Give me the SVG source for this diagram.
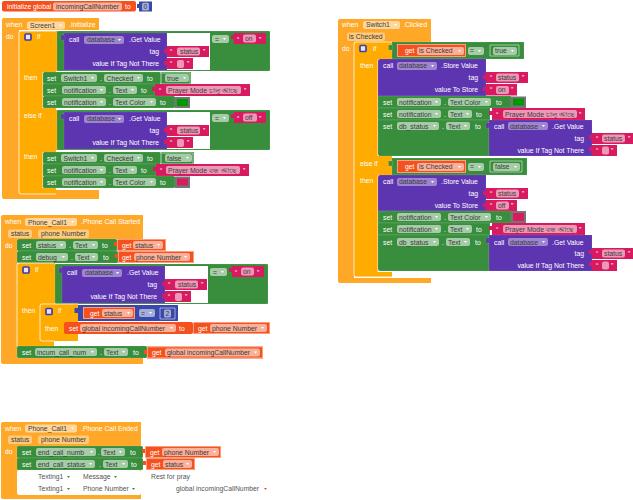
<svg xmlns="http://www.w3.org/2000/svg" xmlns:xlink="http://www.w3.org/1999/xlink" width="633" height="500" viewBox="0 0 633 500">
<style>
text{font-family:"Liberation Sans",Arial,sans-serif;font-size:6.8px;fill:#fff}
.l{fill:#3a3a3a}
.d{fill:#555}
.e{text-anchor:end}
.f{fill:#fff;fill-opacity:.55}
.p{fill:#fff;fill-opacity:.4}
.ev{fill:#ffa726}
.am{fill:#ffab00}
.gr{fill:#388e3c;stroke:#fff;stroke-opacity:.22;stroke-width:.5}
.pu{fill:#5e35b1;stroke:#fff;stroke-opacity:.18;stroke-width:.5}
.pk{fill:#d81b60}
.rd{fill:#f4511e}
.bl{fill:#3949ab}
.gy{fill:#757575}
.wh{fill:#fff}
.ln{fill:none;stroke:#fff;stroke-width:.9;stroke-opacity:.85}
.ol{fill:none;stroke:#fff;stroke-width:.7;stroke-opacity:.75}
.sl{fill:none;stroke:#ffb199;stroke-width:.8}
.m{fill:#e8e4f5;stroke:#3f3fa8;stroke-width:1.7}
</style>
<defs>
<path id="a" d="M0 0h3l-1.5 2z" fill="#fff"/>
<path id="g" d="M0 0h3l-1.5 2z" fill="#388e3c"/>
<path id="r" d="M0 0h3l-1.5 2z" fill="#f4511e"/>
</defs>

<g id="init-global">
<rect class="rd" x="2" y="1" width="134" height="10.5" rx="2"/>
<rect class="bl" x="137" y="4" width="3" height="4"/>
<rect class="bl" x="139" y="1.5" width="13" height="10"/>
<text x="7" y="8.7">initialize global</text>
<rect class="f" x="53" y="2.5" width="69" height="8" rx="2"/>
<text class="l" x="56" y="8.7">incomingCallNumber</text>
<text x="125" y="8.7">to</text>
<rect class="f" x="142" y="2.8" width="7" height="7.6" rx="1.5"/>
<text class="l" x="143.6" y="8.7">0</text>
</g>

<g id="screen1-initialize">
<path class="ev" d="M4 18H99V30H19V190H99V199H4Q2 199 2 197V20Q2 18 4 18Z"/>
<text x="6" y="27">when</text>
<rect class="f" x="27" y="21.5" width="38" height="8" rx="2"/>
<text class="l" x="30" y="27.5">Screen1</text><use href="#a" x="59" y="24.5"/>
<text x="69" y="27">.Initialize</text>
<text x="6" y="39">do</text>
<g id="screen1-if">
<path class="am" d="M21 31H57V71H56V72H43V108H56V110H57V150H56V152H43V188H56V194H21Q19 194 19 192V33Q19 31 21 31Z"/>
<path class="ln" d="M43 72V108M43 152V188M56 31H21Q19 31 19 33V192Q19 194 21 194H56"/>
<rect class="m" x="25" y="34" width="6" height="6" rx="1"/>
<text x="37" y="39">if</text>
<text x="24" y="80">then</text>
<text x="24" y="118">else if</text>
<text x="24" y="159">then</text>
</g>
<g id="screen1-cond1" transform="translate(57,31)">
<rect class="gr" width="213" height="40" rx="1"/>
<rect class="pu" x="4" y="4" width="4" height="5"/>
<rect class="pu" x="7" y="2" width="103" height="37"/>
<rect class="wh" x="110" y="2" width="43" height="37"/>
<text x="12" y="11">call</text>
<rect class="p" x="27" y="5" width="40" height="8" rx="2"/>
<text class="l" x="30" y="11">database</text><use href="#a" x="61" y="8"/>
<text x="72" y="11">.Get Value</text>
<text class="e" x="102" y="23">tag</text>
<text class="e" x="102" y="35">value If Tag Not There</text>
<rect class="pk" x="107" y="18" width="3" height="4"/>
<rect class="pk" x="110" y="15" width="42" height="11"/>
<text x="113" y="23">“</text><rect class="f" x="120" y="16.5" width="23" height="8" rx="2"/><text class="l" x="123" y="23">status</text><text x="146" y="23">”</text>
<rect class="pk" x="107" y="30" width="3" height="4"/>
<rect class="pk" x="110" y="27" width="26" height="11"/>
<text x="113" y="35">“</text><rect class="f" x="120" y="29" width="7" height="8" rx="2"/><text x="130" y="35">”</text>
<rect class="f" x="155" y="4" width="17" height="8" rx="2"/>
<text class="l" x="158" y="10.5">=</text><use href="#a" x="166" y="7"/>
<rect class="pk" x="174" y="4" width="3" height="4"/>
<rect class="pk" x="177" y="2" width="32" height="11"/>
<text x="180" y="10.5">“</text><rect class="f" x="186" y="3.5" width="13" height="8" rx="2"/><text class="l" x="188" y="10">on</text><text x="202" y="10.5">”</text>
</g>
<g id="screen1-set-switch-on">
<rect class="gr" x="43" y="72" width="118" height="12" rx="1.5"/>
<rect class="gr" x="161" y="72" width="30" height="12"/>
<path class="ol" d="M161 73V84H190V73H161"/>
<text x="47" y="80.5">set</text>
<rect class="f" x="61" y="74" width="36" height="8" rx="2"/><text class="l" x="63.5" y="80.5">Switch1</text><use href="#a" x="91" y="77"/>
<text x="100" y="80.5">.</text>
<rect class="f" x="104" y="74" width="39" height="8" rx="2"/><text class="l" x="106.5" y="80.5">Checked</text><use href="#a" x="137" y="77"/>
<text x="147" y="80.5">to</text>
<rect class="f" x="165" y="74" width="24" height="8" rx="2"/><text class="l" x="167" y="80.5">true</text><use href="#a" x="183" y="77"/>
</g>
<g id="screen1-set-text-on">
<rect class="gr" x="43" y="84" width="112" height="12"/>
<text x="47" y="92.5">set</text>
<rect class="f" x="62" y="86" width="44" height="8" rx="2"/><text class="l" x="64" y="92.5">notification</text><use href="#a" x="100" y="89"/>
<text x="109" y="92.5">.</text>
<rect class="f" x="113" y="86" width="24" height="8" rx="2"/><text class="l" x="115" y="92.5">Text</text><use href="#a" x="131" y="89"/>
<text x="141" y="92.5">to</text>
<rect class="pk" x="152" y="87" width="3" height="4"/>
<rect class="pk" x="155" y="84" width="95" height="12"/>
<text x="159" y="93">“</text><rect class="f" x="166" y="86" width="75" height="8" rx="2"/><text class="l" x="168" y="92.5">Prayer Mode চালু আছে</text><text x="244" y="93">”</text>
</g>
<g id="screen1-set-color-on">
<rect class="gr" x="43" y="96" width="132" height="12" rx="1.5"/>
<text x="47" y="104.5">set</text>
<rect class="f" x="62" y="98" width="44" height="8" rx="2"/><text class="l" x="64" y="104.5">notification</text><use href="#a" x="100" y="101"/>
<text x="109" y="104.5">.</text>
<rect class="f" x="113" y="98" width="43" height="8" rx="2"/><text class="l" x="115" y="104.5">Text Color</text><use href="#a" x="150" y="101"/>
<text x="160" y="104.5">to</text>
<rect class="gy" x="175" y="97" width="15" height="11"/><rect x="177" y="99" width="11" height="7" fill="#009900"/>
</g>
<g id="screen1-cond2" transform="translate(57,110)">
<rect class="gr" width="213" height="40" rx="1"/>
<rect class="pu" x="4" y="4" width="4" height="5"/>
<rect class="pu" x="7" y="2" width="103" height="37"/>
<rect class="wh" x="110" y="2" width="43" height="37"/>
<text x="12" y="11">call</text>
<rect class="p" x="27" y="5" width="40" height="8" rx="2"/>
<text class="l" x="30" y="11">database</text><use href="#a" x="61" y="8"/>
<text x="72" y="11">.Get Value</text>
<text class="e" x="102" y="23">tag</text>
<text class="e" x="102" y="35">value If Tag Not There</text>
<rect class="pk" x="107" y="18" width="3" height="4"/>
<rect class="pk" x="110" y="15" width="42" height="11"/>
<text x="113" y="23">“</text><rect class="f" x="120" y="16.5" width="23" height="8" rx="2"/><text class="l" x="123" y="23">status</text><text x="146" y="23">”</text>
<rect class="pk" x="107" y="30" width="3" height="4"/>
<rect class="pk" x="110" y="27" width="26" height="11"/>
<text x="113" y="35">“</text><rect class="f" x="120" y="29" width="7" height="8" rx="2"/><text x="130" y="35">”</text>
<rect class="f" x="155" y="4" width="17" height="8" rx="2"/>
<text class="l" x="158" y="10.5">=</text><use href="#a" x="166" y="7"/>
<rect class="pk" x="174" y="4" width="3" height="4"/>
<rect class="pk" x="177" y="2" width="32" height="11"/>
<text x="180" y="10.5">“</text><rect class="f" x="186" y="3.5" width="14" height="8" rx="2"/><text class="l" x="188" y="10">off</text><text x="202" y="10.5">”</text>
</g>
<g id="screen1-set-switch-off">
<rect class="gr" x="43" y="152" width="118" height="12" rx="1.5"/>
<rect class="gr" x="161" y="152" width="33" height="12"/>
<path class="ol" d="M161 153V164H193V153H161"/>
<text x="47" y="160.5">set</text>
<rect class="f" x="61" y="154" width="36" height="8" rx="2"/><text class="l" x="63.5" y="160.5">Switch1</text><use href="#a" x="91" y="157"/>
<text x="100" y="160.5">.</text>
<rect class="f" x="104" y="154" width="39" height="8" rx="2"/><text class="l" x="106.5" y="160.5">Checked</text><use href="#a" x="137" y="157"/>
<text x="147" y="160.5">to</text>
<rect class="f" x="165" y="154" width="27" height="8" rx="2"/><text class="l" x="167" y="160.5">false</text><use href="#a" x="186" y="157"/>
</g>
<g id="screen1-set-text-off">
<rect class="gr" x="43" y="164" width="113" height="12"/>
<text x="47" y="172.5">set</text>
<rect class="f" x="62" y="166" width="44" height="8" rx="2"/><text class="l" x="64" y="172.5">notification</text><use href="#a" x="100" y="169"/>
<text x="109" y="172.5">.</text>
<rect class="f" x="113" y="166" width="24" height="8" rx="2"/><text class="l" x="115" y="172.5">Text</text><use href="#a" x="131" y="169"/>
<text x="141" y="172.5">to</text>
<rect class="pk" x="153" y="167" width="3" height="4"/>
<rect class="pk" x="156" y="164" width="93" height="12"/>
<text x="160" y="173">“</text><rect class="f" x="166" y="166" width="74" height="8" rx="2"/><text class="l" x="168" y="172.5">Prayer Mode বন্ধ আছে</text><text x="243" y="173">”</text>
</g>
<g id="screen1-set-color-off">
<rect class="gr" x="43" y="176" width="132" height="12" rx="1.5"/>
<text x="47" y="184.5">set</text>
<rect class="f" x="62" y="178" width="44" height="8" rx="2"/><text class="l" x="64" y="184.5">notification</text><use href="#a" x="100" y="181"/>
<text x="109" y="184.5">.</text>
<rect class="f" x="113" y="178" width="43" height="8" rx="2"/><text class="l" x="115" y="184.5">Text Color</text><use href="#a" x="150" y="181"/>
<text x="160" y="184.5">to</text>
<rect class="gy" x="175" y="176.5" width="15" height="11.5"/><rect x="177" y="178.5" width="11" height="7" fill="#d81b60"/>
</g>
</g>

<g id="phone-call-started">
<path class="ev" d="M3 215H143V364H3Q1 364 1 362V217Q1 215 3 215Z"/>
<rect class="wh" x="17" y="239" width="127" height="119"/>
<text x="5" y="224">when</text>
<rect class="f" x="25" y="218" width="52" height="8" rx="2"/><text class="l" x="28" y="224.5">Phone_Call1</text><use href="#a" x="71" y="221"/>
<text x="81" y="224">.Phone Call Started</text>
<rect class="p" x="8" y="229.5" width="24" height="8.5" rx="2"/><text class="l" x="11" y="236">status</text>
<rect class="p" x="38" y="229.5" width="51" height="8.5" rx="2"/><text class="l" x="41" y="236">phone Number</text>
<text x="5" y="248">do</text>
<g id="phone-set-status">
<rect class="gr" x="17" y="239" width="100" height="12" rx="1.5"/>
<text x="22" y="247.5">set</text>
<rect class="f" x="36" y="241" width="30" height="8" rx="2"/><text class="l" x="38" y="247.5">status</text><use href="#a" x="60" y="244"/>
<text x="69" y="247.5">.</text>
<rect class="f" x="73" y="241" width="25" height="8" rx="2"/><text class="l" x="75" y="247.5">Text</text><use href="#a" x="92" y="244"/>
<text x="102" y="247.5">to</text>
<rect class="rd" x="114" y="242" width="3" height="4"/>
<rect class="rd" x="117" y="239" width="49" height="12"/>
<rect class="sl" x="117.4" y="239.4" width="48" height="11"/>
<text x="122" y="247.5">get</text>
<rect class="f" x="133" y="241" width="30" height="8" rx="2"/><text class="l" x="135" y="247.5">status</text><use href="#a" x="157" y="244"/>
</g>
<g id="phone-set-debug">
<rect class="gr" x="17" y="251" width="101" height="12" rx="1.5"/>
<text x="22" y="259.5">set</text>
<rect class="f" x="36" y="253" width="32" height="8" rx="2"/><text class="l" x="38" y="259.5">debug</text><use href="#a" x="62" y="256"/>
<text x="71" y="259.5">.</text>
<rect class="f" x="75" y="253" width="23" height="8" rx="2"/><text class="l" x="77" y="259.5">Text</text><use href="#a" x="92" y="256"/>
<text x="103" y="259.5">to</text>
<rect class="rd" x="115" y="254" width="3" height="4"/>
<rect class="rd" x="118" y="251" width="76" height="12"/>
<rect class="sl" x="118.4" y="251.4" width="75" height="11"/>
<text x="122" y="259.5">get</text>
<rect class="f" x="134" y="253" width="56" height="8" rx="2"/><text class="l" x="136" y="259.5">phone Number</text><use href="#a" x="184" y="256"/>
</g>
<g id="phone-if">
<path class="am" d="M19 263H55V304H54V346H17V265Q17 263 19 263Z"/>
<path class="ln" d="M54 263H19Q17 263 17 265V346"/>
<rect class="m" x="23" y="267" width="6" height="6" rx="1"/>
<text x="35" y="272">if</text>
<text x="22" y="313">then</text>
</g>
<g id="phone-cond" transform="translate(55,264)">
<rect class="gr" width="213" height="40" rx="1"/>
<rect class="pu" x="4" y="4" width="4" height="5"/>
<rect class="pu" x="7" y="2" width="103" height="37"/>
<rect class="wh" x="110" y="2" width="43" height="37"/>
<text x="12" y="11">call</text>
<rect class="p" x="27" y="5" width="40" height="8" rx="2"/>
<text class="l" x="30" y="11">database</text><use href="#a" x="61" y="8"/>
<text x="72" y="11">.Get Value</text>
<text class="e" x="102" y="23">tag</text>
<text class="e" x="102" y="35">value If Tag Not There</text>
<rect class="pk" x="107" y="18" width="3" height="4"/>
<rect class="pk" x="110" y="15" width="42" height="11"/>
<text x="113" y="23">“</text><rect class="f" x="120" y="16.5" width="23" height="8" rx="2"/><text class="l" x="123" y="23">status</text><text x="146" y="23">”</text>
<rect class="pk" x="107" y="30" width="3" height="4"/>
<rect class="pk" x="110" y="27" width="26" height="11"/>
<text x="113" y="35">“</text><rect class="f" x="120" y="29" width="7" height="8" rx="2"/><text x="130" y="35">”</text>
<rect class="f" x="155" y="4" width="17" height="8" rx="2"/>
<text class="l" x="158" y="10.5">=</text><use href="#a" x="166" y="7"/>
<rect class="pk" x="174" y="4" width="3" height="4"/>
<rect class="pk" x="177" y="2" width="32" height="11"/>
<text x="180" y="10.5">“</text><rect class="f" x="186" y="3.5" width="13" height="8" rx="2"/><text class="l" x="188" y="10">on</text><text x="202" y="10.5">”</text>
</g>
<g id="phone-inner-if">
<path class="am" d="M42 304H78V341H54V336H42Z"/>
<path class="am" d="M40 306Q40 304 42 304H60V341H42Q40 341 40 339Z"/>
<path class="ln" d="M78 304H42Q40 304 40 306V339Q40 341 42 341H54"/>
<rect class="m" x="46" y="308.5" width="6" height="6" rx="1"/>
<text x="58" y="313">if</text>
<text x="45" y="331">then</text>
<rect class="bl" x="78" y="305" width="100" height="16"/>
<rect class="bl" x="74.5" y="308" width="4" height="5"/>
<rect class="rd" x="83" y="307" width="52" height="12"/>
<rect class="sl" x="83.4" y="307.4" width="51" height="11"/>
<text x="90" y="315.5">get</text>
<rect class="f" x="102" y="309" width="31" height="8" rx="2"/><text class="l" x="104" y="315.5">status</text><use href="#a" x="127" y="312"/>
<rect class="f" x="139" y="309" width="16" height="8" rx="2"/><text class="l" x="141" y="315.5">=</text><use href="#a" x="149" y="312"/>
<path class="ol" d="M160 308H175V319H160Z"/>
<rect class="f" x="164" y="309.5" width="7" height="8" rx="1.5"/><text class="l" x="165.5" y="316">2</text>
</g>
<g id="phone-set-global">
<rect class="rd" x="64" y="322" width="129" height="12" rx="2"/>
<text x="69" y="330.5">set</text>
<rect class="f" x="80" y="324" width="96" height="8" rx="2"/><text class="l" x="82" y="330.5">global incomingCallNumber</text><use href="#a" x="170" y="327"/>
<text x="179" y="330.5">to</text>
<rect class="rd" x="193" y="322" width="77" height="12"/>
<rect class="sl" x="193.4" y="322.4" width="76" height="11"/>
<text x="198" y="330.5">get</text>
<rect class="f" x="210" y="324" width="57" height="8" rx="2"/><text class="l" x="212" y="330.5">phone Number</text><use href="#a" x="261" y="327"/>
</g>
<g id="phone-set-incum">
<rect class="gr" x="17" y="346" width="130" height="12" rx="1.5"/>
<text x="22" y="354.5">set</text>
<rect class="f" x="35" y="348" width="62" height="8" rx="2"/><text class="l" x="37" y="354.5">incum_call_num</text><use href="#a" x="91" y="351"/>
<text x="100" y="354.5">.</text>
<rect class="f" x="104" y="348" width="24" height="8" rx="2"/><text class="l" x="106" y="354.5">Text</text><use href="#a" x="122" y="351"/>
<text x="133" y="354.5">to</text>
<rect class="rd" x="144" y="350" width="3" height="4"/>
<rect class="rd" x="147" y="346.5" width="116" height="12"/>
<rect class="sl" x="147.4" y="346.9" width="115" height="11"/>
<text x="152" y="355">get</text>
<rect class="f" x="165" y="348.5" width="95" height="8" rx="2"/><text class="l" x="167" y="355">global incomingCallNumber</text><use href="#a" x="254" y="351.5"/>
</g>
</g>

<g id="phone-call-ended">
<path class="ev" d="M3 422H141V499H3Q1 499 1 497V424Q1 422 3 422Z"/>
<rect class="wh" x="17" y="470" width="124" height="25" rx="2"/>
<text x="5" y="431">when</text>
<rect class="f" x="25" y="424.5" width="52" height="8" rx="2"/><text class="l" x="28" y="431">Phone_Call1</text><use href="#a" x="71" y="427.5"/>
<text x="81" y="430.5">.Phone Call Ended</text>
<rect class="p" x="8" y="435.5" width="24" height="8.5" rx="2"/><text class="l" x="11" y="442">status</text>
<rect class="p" x="38" y="435.5" width="51" height="8.5" rx="2"/><text class="l" x="41" y="442">phone Number</text>
<text x="5" y="454">do</text>
<g id="ended-set-numb">
<rect class="gr" x="17" y="446" width="126" height="12" rx="1.5"/>
<text x="22" y="454.5">set</text>
<rect class="f" x="36" y="448" width="60" height="8" rx="2"/><text class="l" x="38" y="454.5">end_call_numb</text><use href="#a" x="90" y="451"/>
<text x="98" y="454.5">.</text>
<rect class="f" x="101" y="448" width="24" height="8" rx="2"/><text class="l" x="103" y="454.5">Text</text><use href="#a" x="119" y="451"/>
<text x="130" y="454.5">to</text>
<rect class="rd" x="142" y="449" width="3" height="4"/>
<rect class="rd" x="145" y="446" width="76" height="12"/>
<rect class="sl" x="145.4" y="446.4" width="75" height="11"/>
<text x="150" y="454.5">get</text>
<rect class="f" x="162" y="448" width="57" height="8" rx="2"/><text class="l" x="164" y="454.5">phone Number</text><use href="#a" x="213" y="451"/>
</g>
<g id="ended-set-status">
<rect class="gr" x="17" y="458" width="126" height="12" rx="1.5"/>
<text x="22" y="466.5">set</text>
<rect class="f" x="36" y="460" width="59" height="8" rx="2"/><text class="l" x="38" y="466.5">end_call_status</text><use href="#a" x="89" y="463"/>
<text x="99" y="466.5">.</text>
<rect class="f" x="103" y="460" width="25" height="8" rx="2"/><text class="l" x="105" y="466.5">Text</text><use href="#a" x="122" y="463"/>
<text x="131" y="466.5">to</text>
<rect class="rd" x="143" y="461" width="3" height="4"/>
<rect class="rd" x="146" y="458" width="49" height="12"/>
<rect class="sl" x="146.4" y="458.4" width="48" height="11"/>
<text x="151" y="466.5">get</text>
<rect class="f" x="163" y="460" width="29" height="8" rx="2"/><text class="l" x="165" y="466.5">status</text><use href="#a" x="186" y="463"/>
</g>
<g id="ended-detached">
<text class="d" x="38" y="479">Texting1</text><use href="#g" x="67" y="476"/>
<text class="d" x="83" y="479">Message</text><use href="#g" x="114" y="476"/>
<text class="d" x="151" y="479">Rest for pray</text>
<text class="d" x="38" y="491">Texting1</text><use href="#g" x="67" y="488"/>
<text class="d" x="83" y="491">Phone Number</text><use href="#g" x="132" y="488"/>
<text class="d" x="176" y="491">global incomingCallNumber</text><use href="#r" x="264" y="488"/>
</g>
</g>

<g id="switch1-clicked">
<path class="ev" d="M340 19H431V42H354V278H431V283H340Q338 283 338 281V21Q338 19 340 19Z"/>
<text x="342" y="27">when</text>
<rect class="f" x="363" y="21" width="37" height="8" rx="2"/><text class="l" x="366" y="27">Switch1</text><use href="#a" x="394" y="24"/>
<text x="403" y="27">.Clicked</text>
<rect class="p" x="347" y="32.5" width="38" height="8.5" rx="2"/><text class="l" x="349" y="39">is Checked</text>
<text x="342" y="51">do</text>
<g id="switch1-if">
<path class="am" d="M356 42H392V59H378V156H392V175H378V272H392V277H356Q354 277 354 275V44Q354 42 356 42Z"/>
<path class="ln" d="M392 42H356Q354 42 354 44V275Q354 277 356 277H392M378 60V156M378 176V272"/>
<rect class="m" x="360" y="45.5" width="6" height="6" rx="1"/>
<text x="373" y="50.5">if</text>
<text x="360" y="68">then</text>
<text x="360" y="166">else if</text>
<text x="360" y="183">then</text>
</g>
<g id="switch1-cond-true">
<rect class="gr" x="392" y="42" width="132" height="17"/>
<rect class="gr" x="388.5" y="45" width="4" height="5"/>
<rect class="rd" x="397" y="44" width="69" height="13"/>
<rect class="sl" x="397.4" y="44.4" width="68" height="12"/>
<text x="405" y="53">get</text>
<rect class="f" x="417" y="47" width="47" height="8" rx="2"/><text class="l" x="419" y="53">is Checked</text><use href="#a" x="458" y="50"/>
<rect class="f" x="468" y="47" width="16" height="8" rx="2"/><text class="l" x="470" y="53">=</text><use href="#a" x="478" y="50"/>
<path class="ol" d="M490 45H519V56H490Z"/>
<rect class="f" x="493" y="47" width="24" height="8" rx="2"/><text class="l" x="495" y="53">true</text><use href="#a" x="511" y="50"/>
</g>
<g id="switch1-store-on">
<path class="pu" d="M380 59H486V96H378V61Q378 59 380 59Z"/>
<text x="383" y="68">call</text>
<rect class="p" x="397" y="62" width="40" height="8" rx="2"/><text class="l" x="399" y="68">database</text><use href="#a" x="431" y="65"/>
<text x="441" y="68">.Store Value</text>
<text class="e" x="478" y="80">tag</text>
<text class="e" x="478" y="92">value To Store</text>
<rect class="pk" x="483" y="75" width="3" height="4"/>
<rect class="pk" x="486" y="72" width="42" height="11"/>
<text x="490" y="80">“</text><rect class="f" x="496" y="73.5" width="23" height="8" rx="2"/><text class="l" x="498" y="80">status</text><text x="522" y="80">”</text>
<rect class="pk" x="483" y="87" width="3" height="4"/>
<rect class="pk" x="486" y="84" width="31" height="11.5"/>
<text x="490" y="92">“</text><rect class="f" x="496" y="86" width="13" height="8" rx="2"/><text class="l" x="498" y="92">on</text><text x="511" y="92">”</text>
</g>
<g id="switch1-color-on">
<rect class="gr" x="378" y="96" width="133" height="12"/>
<text x="383" y="104.5">set</text>
<rect class="f" x="397" y="98" width="44" height="8" rx="2"/><text class="l" x="399" y="104.5">notification</text><use href="#a" x="435" y="101"/>
<text x="444" y="104.5">.</text>
<rect class="f" x="448" y="98" width="43" height="8" rx="2"/><text class="l" x="450" y="104.5">Text Color</text><use href="#a" x="485" y="101"/>
<text x="496" y="104.5">to</text>
<rect class="gy" x="511" y="96.5" width="15" height="11.5"/><rect x="513" y="98.5" width="11" height="7" fill="#009900"/>
</g>
<g id="switch1-text-on">
<rect class="gr" x="378" y="108" width="112" height="12"/>
<text x="383" y="116.5">set</text>
<rect class="f" x="397" y="110" width="44" height="8" rx="2"/><text class="l" x="399" y="116.5">notification</text><use href="#a" x="435" y="113"/>
<text x="444" y="116.5">.</text>
<rect class="f" x="448" y="110" width="24" height="8" rx="2"/><text class="l" x="450" y="116.5">Text</text><use href="#a" x="466" y="113"/>
<text x="476" y="116.5">to</text>
<rect class="pk" x="489" y="111" width="3" height="4"/>
<rect class="pk" x="492" y="108" width="93" height="12"/>
<text x="496" y="117">“</text><rect class="f" x="503" y="110" width="74" height="8" rx="2"/><text class="l" x="505" y="116.5">Prayer Mode চালু আছে</text><text x="579" y="117">”</text>
</g>
<g id="switch1-db-on">
<path class="gr" d="M378 120H489V156H380Q378 156 378 154Z"/>
<text x="383" y="128.5">set</text>
<rect class="f" x="397" y="122" width="42" height="8" rx="2"/><text class="l" x="399" y="128.5">db_status</text><use href="#a" x="433" y="125"/>
<text x="442" y="128.5">.</text>
<rect class="f" x="446" y="122" width="24" height="8" rx="2"/><text class="l" x="448" y="128.5">Text</text><use href="#a" x="464" y="125"/>
<text x="475" y="128.5">to</text>
<rect class="pu" x="486" y="123" width="4" height="5"/>
<rect class="pu" x="489" y="120" width="103" height="36"/>
<text x="494" y="128.5">call</text>
<rect class="p" x="508" y="122" width="40" height="8" rx="2"/><text class="l" x="510" y="128.5">database</text><use href="#a" x="542" y="125"/>
<text x="552" y="128.5">.Get Value</text>
<text class="e" x="584" y="140.5">tag</text>
<text class="e" x="584" y="152.5">value If Tag Not There</text>
<rect class="pk" x="589" y="135" width="3" height="4"/>
<rect class="pk" x="592" y="133" width="41" height="11"/>
<text x="596" y="141">“</text><rect class="f" x="602" y="134.5" width="23" height="8" rx="2"/><text class="l" x="604" y="141">status</text><text x="628" y="141">”</text>
<rect class="pk" x="589" y="147" width="3" height="4"/>
<rect class="pk" x="592" y="145" width="25" height="11"/>
<text x="596" y="153">“</text><rect class="f" x="602" y="146.5" width="7" height="8" rx="2"/><text x="611" y="153">”</text>
</g>
<g id="switch1-cond-false">
<rect class="gr" x="392" y="158" width="135" height="17"/>
<rect class="gr" x="388.5" y="161" width="4" height="5"/>
<rect class="rd" x="397" y="160" width="69" height="13"/>
<rect class="sl" x="397.4" y="160.4" width="68" height="12"/>
<text x="405" y="169">get</text>
<rect class="f" x="417" y="163" width="47" height="8" rx="2"/><text class="l" x="419" y="169">is Checked</text><use href="#a" x="458" y="166"/>
<rect class="f" x="468" y="163" width="16" height="8" rx="2"/><text class="l" x="470" y="169">=</text><use href="#a" x="478" y="166"/>
<path class="ol" d="M490 161H522V172H490Z"/>
<rect class="f" x="493" y="163" width="27" height="8" rx="2"/><text class="l" x="495" y="169">false</text><use href="#a" x="514" y="166"/>
</g>
<g id="switch1-store-off">
<path class="pu" d="M380 175H486V211H378V177Q378 175 380 175Z"/>
<text x="383" y="184">call</text>
<rect class="p" x="397" y="178" width="40" height="8" rx="2"/><text class="l" x="399" y="184">database</text><use href="#a" x="431" y="181"/>
<text x="441" y="184">.Store Value</text>
<text class="e" x="478" y="196">tag</text>
<text class="e" x="478" y="208">value To Store</text>
<rect class="pk" x="483" y="191" width="3" height="4"/>
<rect class="pk" x="486" y="188" width="42" height="11"/>
<text x="490" y="196">“</text><rect class="f" x="496" y="189.5" width="23" height="8" rx="2"/><text class="l" x="498" y="196">status</text><text x="522" y="196">”</text>
<rect class="pk" x="483" y="203" width="3" height="4"/>
<rect class="pk" x="486" y="200" width="31" height="11"/>
<text x="490" y="208">“</text><rect class="f" x="496" y="201.5" width="13" height="8" rx="2"/><text class="l" x="498" y="208">off</text><text x="511" y="208">”</text>
</g>
<g id="switch1-color-off">
<rect class="gr" x="378" y="211" width="133" height="12"/>
<text x="383" y="219.5">set</text>
<rect class="f" x="397" y="213" width="44" height="8" rx="2"/><text class="l" x="399" y="219.5">notification</text><use href="#a" x="435" y="216"/>
<text x="444" y="219.5">.</text>
<rect class="f" x="448" y="213" width="43" height="8" rx="2"/><text class="l" x="450" y="219.5">Text Color</text><use href="#a" x="485" y="216"/>
<text x="496" y="219.5">to</text>
<rect class="gy" x="511" y="211" width="15" height="12"/><rect x="513" y="213" width="11" height="8" fill="#d81b60"/>
</g>
<g id="switch1-text-off">
<rect class="gr" x="378" y="223" width="112" height="12"/>
<text x="383" y="231.5">set</text>
<rect class="f" x="397" y="225" width="44" height="8" rx="2"/><text class="l" x="399" y="231.5">notification</text><use href="#a" x="435" y="228"/>
<text x="444" y="231.5">.</text>
<rect class="f" x="448" y="225" width="24" height="8" rx="2"/><text class="l" x="450" y="231.5">Text</text><use href="#a" x="466" y="228"/>
<text x="476" y="231.5">to</text>
<rect class="pk" x="489" y="226" width="3" height="4"/>
<rect class="pk" x="492" y="223" width="93" height="12"/>
<text x="496" y="232">“</text><rect class="f" x="503" y="225" width="74" height="8" rx="2"/><text class="l" x="505" y="231.5">Prayer Mode বন্ধ আছে</text><text x="579" y="232">”</text>
</g>
<g id="switch1-db-off">
<path class="gr" d="M378 235H489V271H380Q378 271 378 269Z"/>
<text x="383" y="244.5">set</text>
<rect class="f" x="397" y="238" width="42" height="8" rx="2"/><text class="l" x="399" y="244.5">db_status</text><use href="#a" x="433" y="241"/>
<text x="442" y="244.5">.</text>
<rect class="f" x="446" y="238" width="24" height="8" rx="2"/><text class="l" x="448" y="244.5">Text</text><use href="#a" x="464" y="241"/>
<text x="475" y="244.5">to</text>
<rect class="pu" x="486" y="238" width="4" height="5"/>
<rect class="pu" x="489" y="235" width="103" height="36"/>
<text x="494" y="244.5">call</text>
<rect class="p" x="508" y="238" width="40" height="8" rx="2"/><text class="l" x="510" y="244.5">database</text><use href="#a" x="542" y="241"/>
<text x="552" y="244.5">.Get Value</text>
<text class="e" x="584" y="255.5">tag</text>
<text class="e" x="584" y="267.5">value If Tag Not There</text>
<rect class="pk" x="589" y="250" width="3" height="4"/>
<rect class="pk" x="592" y="248" width="41" height="11"/>
<text x="596" y="256">“</text><rect class="f" x="602" y="249.5" width="23" height="8" rx="2"/><text class="l" x="604" y="256">status</text><text x="628" y="256">”</text>
<rect class="pk" x="589" y="262" width="3" height="4"/>
<rect class="pk" x="592" y="260" width="25" height="11"/>
<text x="596" y="268">“</text><rect class="f" x="602" y="261.5" width="7" height="8" rx="2"/><text x="611" y="268">”</text>
</g>
</g>
</svg>
